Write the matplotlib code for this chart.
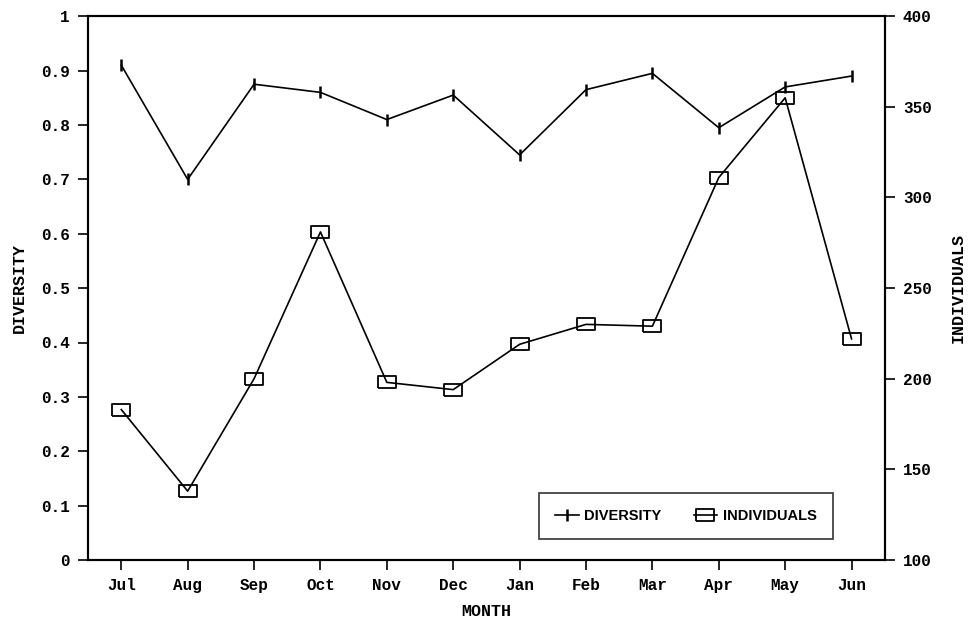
import matplotlib.pyplot as plt
from matplotlib.ticker import FuncFormatter

months = ['Jul', 'Aug', 'Sep', 'Oct', 'Nov', 'Dec', 'Jan', 'Feb', 'Mar', 'Apr', 'May', 'Jun']
diversity = [0.91, 0.70, 0.875, 0.86, 0.81, 0.855, 0.745, 0.865, 0.895, 0.795, 0.87, 0.89]
individuals = [183, 138, 200, 281, 198, 194, 219, 230, 229, 311, 355, 222]

mono = {'family': ['Liberation Mono', 'DejaVu Sans Mono'], 'weight': 'bold'}
box = [(-1.4, -1), (1.4, -1), (1.4, 1), (-1.4, 1), (-1.4, -1)]

fig = plt.figure(figsize=(9.68, 6.25), dpi=100)
ax = fig.add_axes([0.091, 0.104, 0.823, 0.870])
ax2 = ax.twinx()

x = range(len(months))
l1, = ax.plot(x, diversity, color='black', lw=1.2, marker='|', ms=9, mew=1.8, label='DIVERSITY')
l2, = ax2.plot(x, individuals, color='black', lw=1.2, marker=box, ms=13, mew=1.3,
               mfc='none', label='INDIVIDUALS')

ax.set_xlim(-0.5, 11.5)
ax.set_ylim(0, 1)
ax2.set_ylim(100, 400)
ax.set_xticks(list(x))
ax.set_xticklabels(months, fontdict=mono, fontsize=11)
ax.set_yticks([i / 10 for i in range(11)])
ax.yaxis.set_major_formatter(FuncFormatter(lambda v, p: f'{v:g}'))
ax2.set_yticks(range(100, 401, 50))

for a in (ax, ax2):
    a.tick_params(direction='out', length=7, width=1.2, pad=6, labelsize=11.5)
    for lab in a.get_yticklabels() + a.get_xticklabels():
        lab.set_fontfamily(mono['family'])
        lab.set_fontweight('bold')
    for sp in a.spines.values():
        sp.set_linewidth(1.5)

ax.set_xlabel('MONTH', fontdict=mono, fontsize=12, labelpad=8)
ax.set_ylabel('DIVERSITY', fontdict=mono, fontsize=12, labelpad=10)
ax2.set_ylabel('INDIVIDUALS', fontdict=mono, fontsize=12, labelpad=14, rotation=90)

leg = ax2.legend(handles=[l1, l2], loc='lower right', bbox_to_anchor=(0.944, 0.025),
                 ncol=2, frameon=True, fancybox=False, edgecolor='black',
                 prop={'family': ['Liberation Sans Narrow', 'Liberation Sans'],
                       'size': 10.5, 'weight': 'bold'},
                 handlelength=1.6, handletextpad=0.4, columnspacing=2.2, borderpad=1.1)
leg.get_frame().set_linewidth(1.2)

fig.savefig('out.png', dpi=100)
